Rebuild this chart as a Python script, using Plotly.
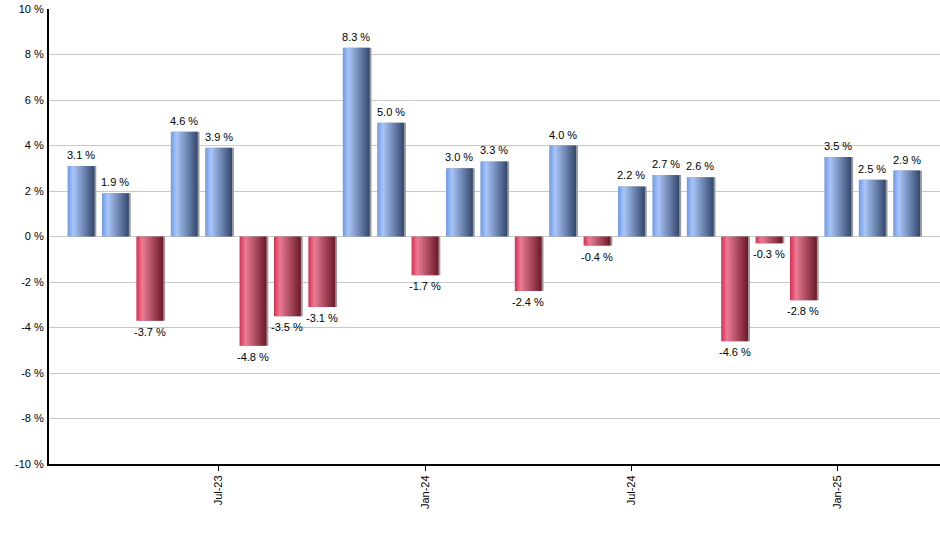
import plotly.graph_objects as go

months = ["Mar-23", "Apr-23", "May-23", "Jun-23", "Jul-23", "Aug-23", "Sep-23", "Oct-23",
          "Nov-23", "Dec-23", "Jan-24", "Feb-24", "Mar-24", "Apr-24", "May-24", "Jun-24",
          "Jul-24", "Aug-24", "Sep-24", "Oct-24", "Nov-24", "Dec-24", "Jan-25", "Feb-25", "Mar-25"]
returns = [3.1, 1.9, -3.7, 4.6, 3.9, -4.8, -3.5, -3.1, 8.3, 5.0, -1.7, 3.0, 3.3, -2.4, 4.0,
           -0.4, 2.2, 2.7, 2.6, -4.6, -0.3, -2.8, 3.5, 2.5, 2.9]
tick_labels = ["Jul-23", "Jan-24", "Jul-24", "Jan-25"]
y_ticks = [-10, -8, -6, -4, -2, 0, 2, 4, 6, 8, 10]

blue_scale = [[0, "#6e9ae6"], [0.22, "#a9c5f7"], [1, "#33476c"]]
red_scale = [[0, "#dc2a50"], [0.22, "#e97c94"], [1, "#6b1828"]]
half = 0.39
shadow = 0.055

fig = go.Figure()
# thin grey shadow on the right of each bar
for i, v in enumerate(returns):
    fig.add_trace(go.Scatter(
        x=[i - half + shadow, i + half + shadow], y=[v, v], mode="lines",
        fill="tozeroy", line=dict(width=0), fillcolor="#9a9a9a",
        hoverinfo="skip", showlegend=False))
for i, v in enumerate(returns):
    fig.add_trace(go.Scatter(
        x=[i - half, i + half], y=[v, v], mode="lines", fill="tozeroy",
        line=dict(width=0),
        fillgradient=dict(type="horizontal",
                          colorscale=blue_scale if v >= 0 else red_scale),
        hoverinfo="skip", showlegend=False))

# value labels
for i, v in enumerate(returns):
    fig.add_annotation(
        x=i, y=v, text=f"{v:.1f} %", showarrow=False,
        yanchor="bottom" if v >= 0 else "top",
        yshift=3 if v >= 0 else -3,
        font=dict(family="Liberation Sans, Arial", size=11, color="#000"))

fig.update_layout(
    width=940, height=550,
    margin=dict(l=49, r=0, t=9, b=86),
    paper_bgcolor="white", plot_bgcolor="white",
    font=dict(family="Liberation Sans, Arial", size=11, color="#000"),
    xaxis=dict(range=[-0.93, 24.97], tickmode="array",
               tickvals=[months.index(m) for m in tick_labels], ticktext=tick_labels,
               tickangle=-90, ticks="outside", ticklen=5, tickcolor="#000",
               showline=True, linecolor="#000", linewidth=2,
               showgrid=False, zeroline=False, automargin=False),
    yaxis=dict(range=[-10, 10], tickvals=y_ticks,
               ticktext=[f"{t} %" for t in y_ticks],
               showline=True, linecolor="#000", linewidth=2,
               showgrid=True, gridcolor="#c8c8c8", zeroline=False,
               ticks="", ticklabelstandoff=1, automargin=False),
)

fig.write_html("out.html", config={"displayModeBar": False},
               post_script="document.body.style.margin='0';")
